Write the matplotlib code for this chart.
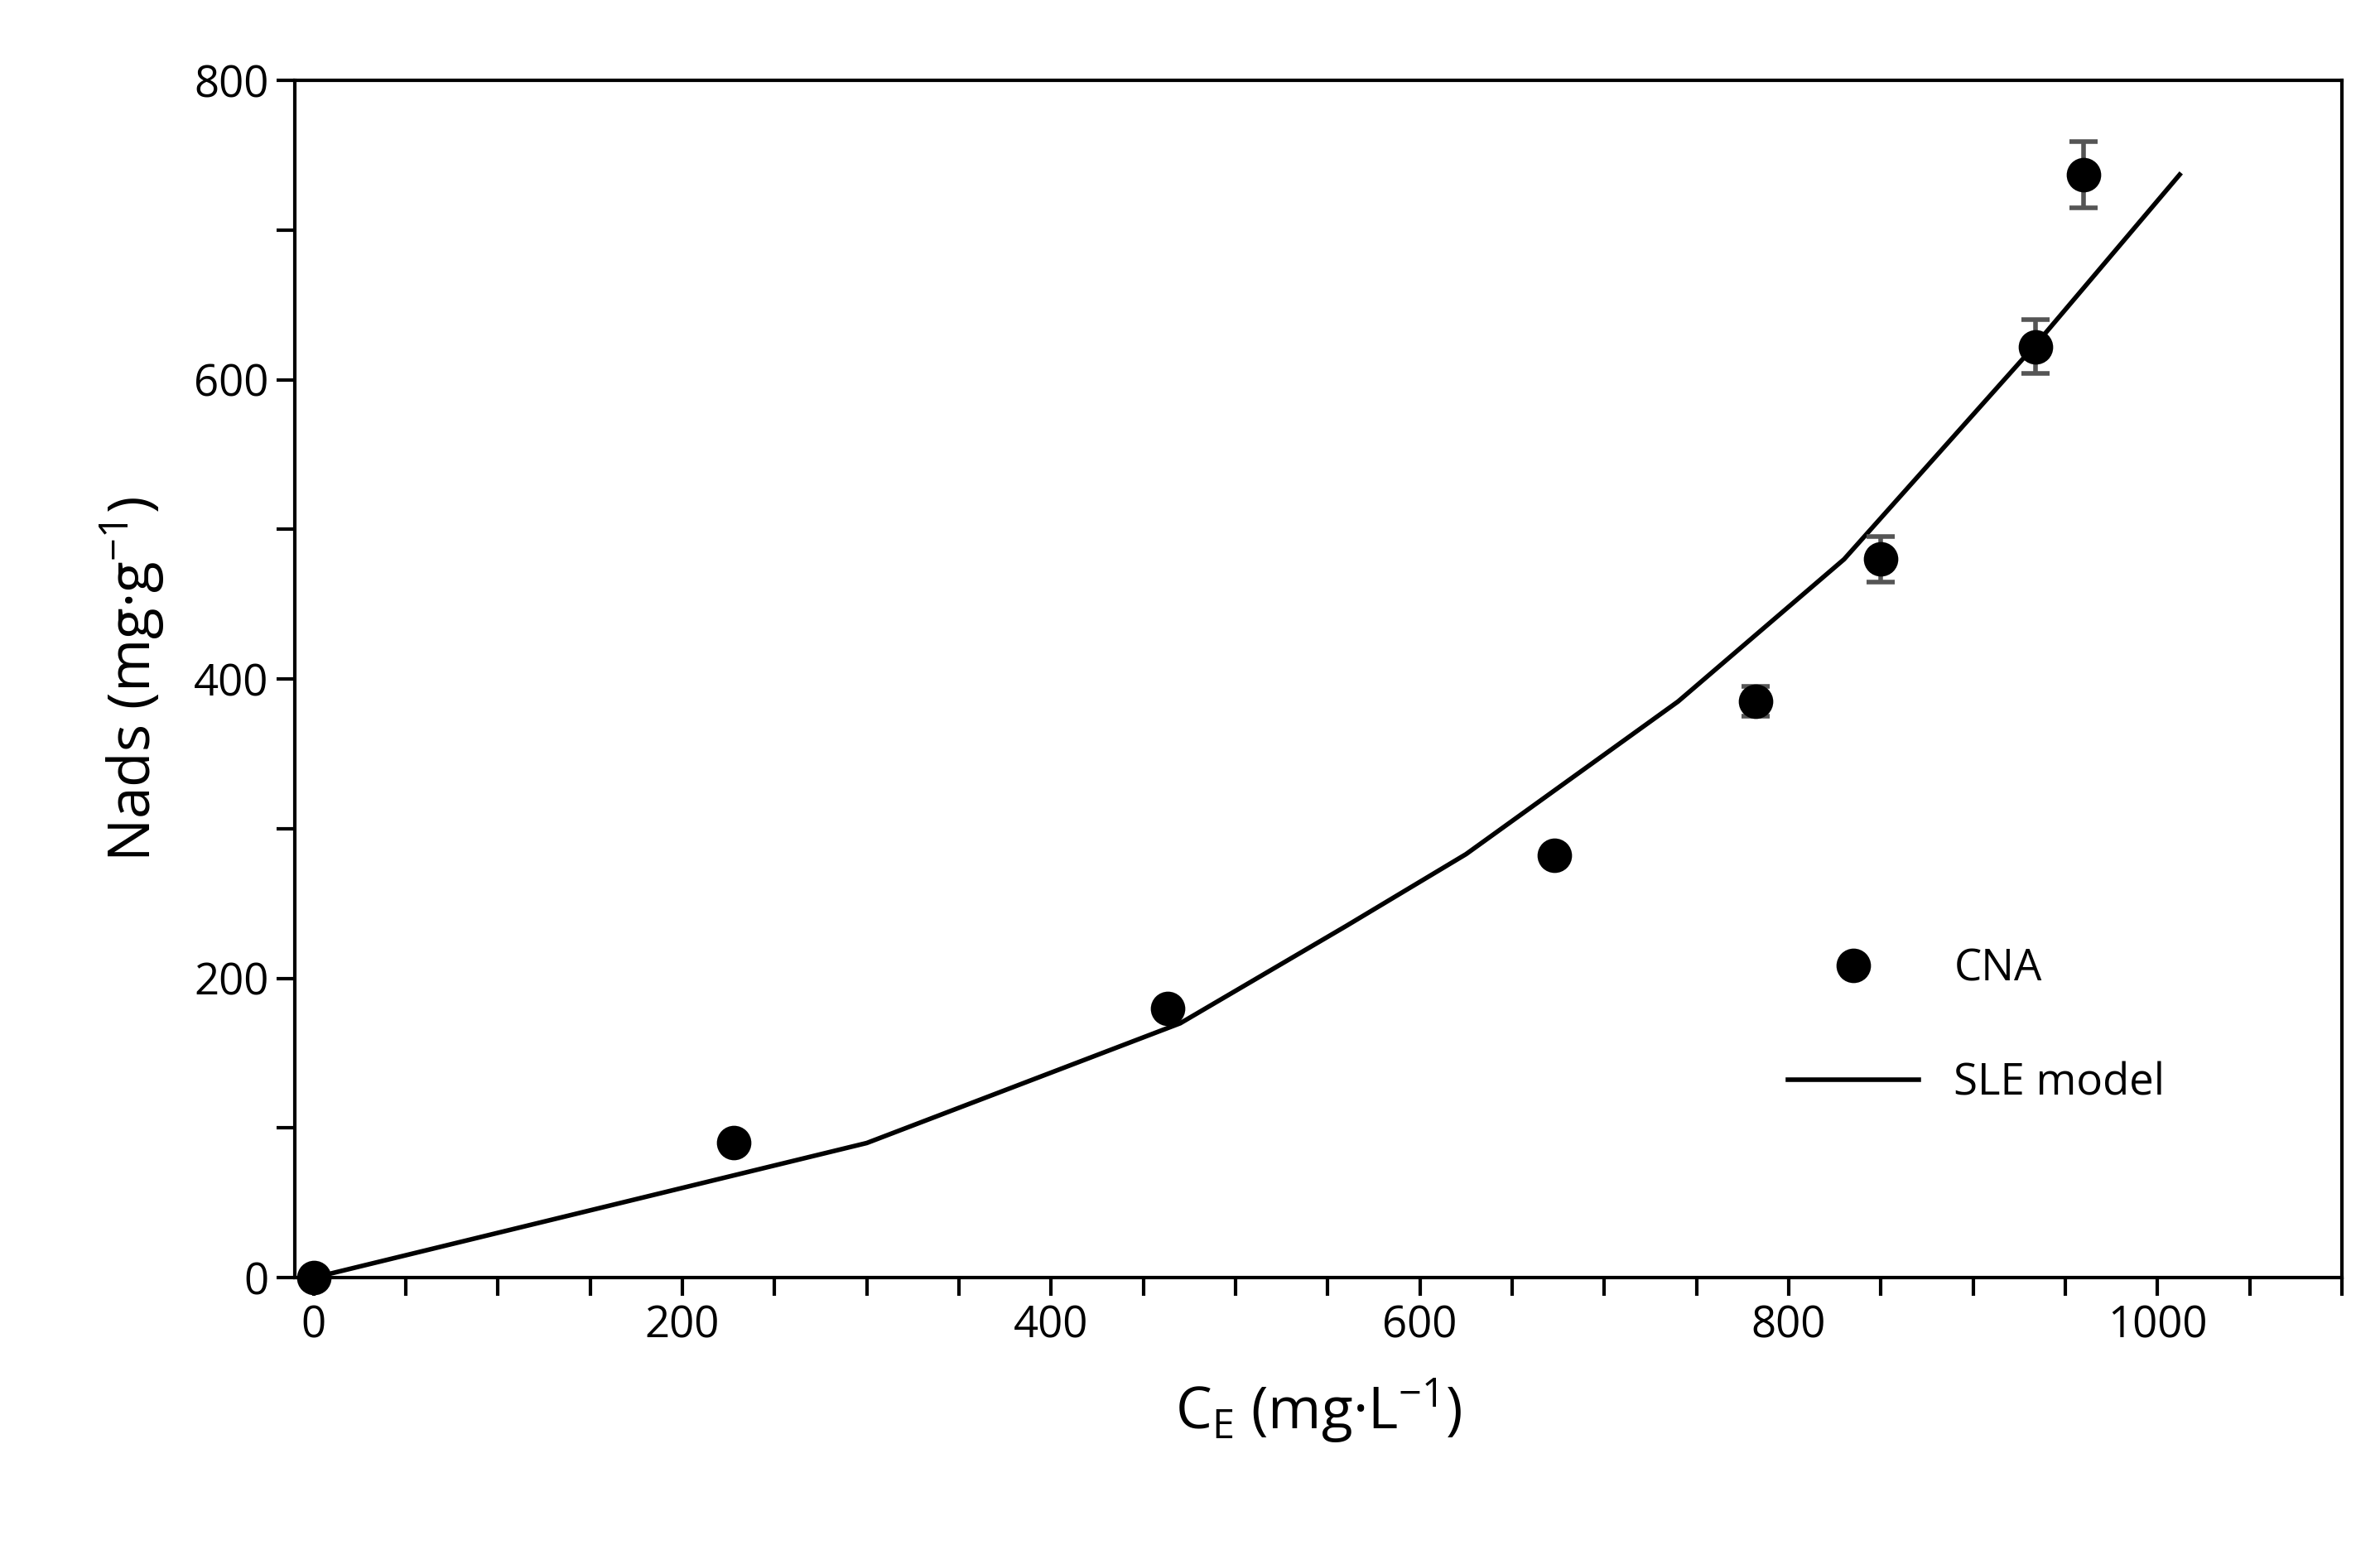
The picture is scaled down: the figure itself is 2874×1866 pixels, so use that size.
import matplotlib
matplotlib.use("Agg")
import matplotlib.pyplot as plt
from matplotlib.ticker import MultipleLocator
from matplotlib.lines import Line2D

ce = [0, 228, 463, 673, 782, 850, 934, 960]
nads = [0, 90, 180, 282, 385, 480, 622, 737]
err = [0, 0, 0, 0, 10, 15, 18, 22]
model_x = [0, 300, 470, 560, 625, 740, 830, 935, 1012]
model_y = [0, 90, 170, 235, 283, 385, 480, 625, 737]

plt.rcParams['font.family'] = ['Open Sans', 'DejaVu Sans']
fig = plt.figure(figsize=(14.37, 9.33), dpi=200)
ax = fig.add_axes([0.124, 0.173, 0.86, 0.775])
ax.plot(model_x, model_y, color='black', lw=2, zorder=2)
ax.errorbar(ce, nads, yerr=err, fmt='o', color='black', ms=14, ecolor='#555555',
            elinewidth=2, capsize=6, capthick=2, zorder=3, clip_on=False)
ax.set_xlim(-10, 1100)
ax.set_ylim(0, 800)
ax.xaxis.set_major_locator(MultipleLocator(200))
ax.xaxis.set_minor_locator(MultipleLocator(50))
ax.yaxis.set_major_locator(MultipleLocator(200))
ax.yaxis.set_minor_locator(MultipleLocator(100))
ax.tick_params(which='both', direction='out', width=1.5, labelsize=19, colors='black', length=8)
for s in ax.spines.values():
    s.set_linewidth(1.5)
ax.set_xlabel(r'C$_\mathregular{E}$ (mg·L$^\mathregular{-1}$)', fontsize=25, labelpad=12)
ax.set_ylabel(r'Nads (mg·g$^\mathregular{-1}$)', fontsize=25, labelpad=12)
handles = [Line2D([], [], ls='none', marker='o', color='black', ms=14),
           Line2D([], [], color='black', lw=2)]
ax.legend(handles, ['CNA', 'SLE model'], loc='center left', bbox_to_anchor=(0.71, 0.21),
          frameon=False, fontsize=19, handlelength=3, labelspacing=1.6)
fig.savefig('out.png', dpi=200)
